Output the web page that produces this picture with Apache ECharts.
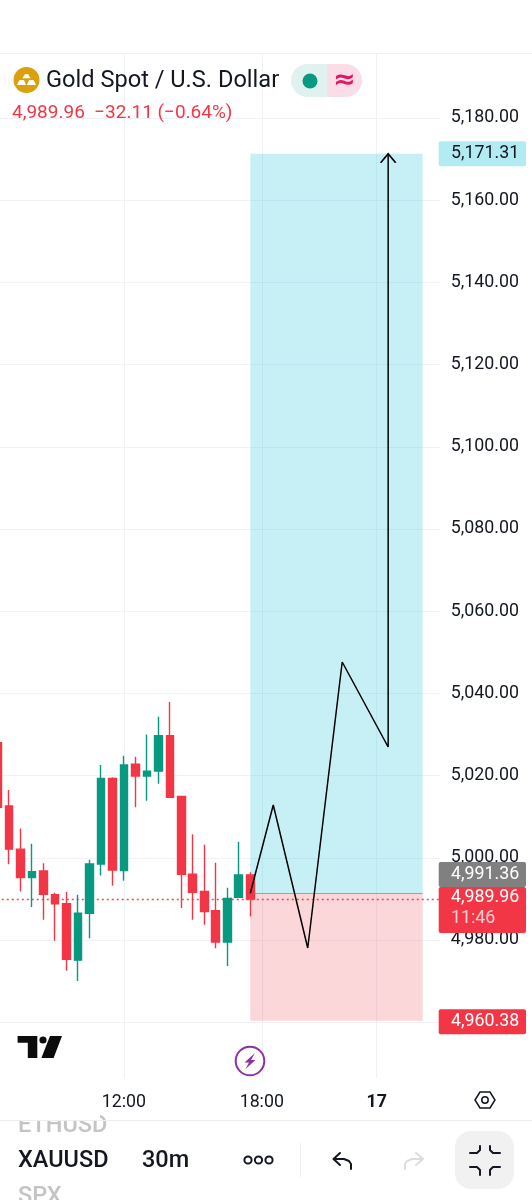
<![CDATA[<!DOCTYPE html>
<html><head><meta charset="utf-8">
<style>html,body{margin:0;padding:0;background:#fff}#c{width:532px;height:1200px}</style>
<script src="https://cdn.jsdelivr.net/npm/echarts@6/dist/echarts.min.js"></script>
</head><body><div id="c"></div>
<script>
const categories = ['','','','','','','','','','','','12:00','','','','','','','','','','','','18:00','','','','','','','','','','17','','','','',''];
const opens  = [5028.0,5012.6,5002.1,4995.2,4996.8,4991.0,4988.8,4975.1,4986.5,4998.5,5019.3,4996.9,5022.8,5019.9,5021.1,5029.7,5014.9,4996.0,4991.8,4987.1,4979.5,4990.4,4995.8];
const closes = [5012.3,5002.1,4995.2,4996.6,4991.1,4988.8,4975.3,4986.5,4998.5,5019.3,4997.0,5022.6,5019.9,5021.1,5029.7,5014.7,4996.0,4991.6,4986.9,4979.5,4990.1,4995.8,4989.96];
const lows   = [5012.3,4998.4,4991.8,4988.0,4984.9,4979.8,4972.5,4970.0,4980.4,4995.7,4993.2,4994.4,5012.3,5013.9,5018.0,5014.7,4987.8,4984.9,4983.7,4978.0,4973.7,4990.4,4985.7];
const highs  = [5028.0,5016.5,5007.1,5003.4,4998.7,4991.5,4991.7,4991.0,4999.5,5022.6,5019.6,5024.8,5024.6,5030.0,5034.3,5037.9,5014.9,5005.7,5003.2,4998.8,4992.7,5003.9,4996.5];
const priceTicks = [4960,4980,5000,5020,5040,5060,5080,5100,5120,5140,5160,5180];
const priceLabels = [4980,5000,5020,5040,5060,5080,5100,5120,5140,5160,5180];
const projectionX = [22,24,27,30,34,34];
const projectionY = [4991.36,5012.85,4978.05,5047.64,5026.96,5171.31];
const targetPrice = 5171.31, entryPrice = 4991.36, lastPrice = 4989.96, stopPrice = 4960.38;
const boxStart = 22, boxEnd = 37;

const UP='#089981', DOWN='#f23645', GRID='#f1f2f5', INK='#131722';
const FONT='Roboto, sans-serif';
const fmt = v => v.toLocaleString('en-US',{minimumFractionDigits:2,maximumFractionDigits:2});
const chart = echarts.init(document.getElementById('c'),null,{renderer:'canvas'});

const option = {
  animation:false,
  backgroundColor:'#fff',
  title:[
    {text:'Gold Spot / U.S. Dollar',left:46,top:69,padding:0,textStyle:{fontFamily:FONT,fontSize:23.6,fontWeight:400,color:INK}},
    {text:'4,989.96  −32.11 (−0.64%)',left:12,top:103.5,padding:0,textStyle:{fontFamily:FONT,fontSize:19,fontWeight:400,color:DOWN}}
  ],
  grid:{left:-8.235,top:53,width:448.1,height:1025,outerBoundsMode:'none',containLabel:false},
  xAxis:{type:'category',data:categories,boundaryGap:true,
    axisLine:{show:false},axisTick:{show:false},
    splitLine:{show:true,alignWithLabel:true,interval:(i,v)=>v!=='',lineStyle:{color:GRID,width:1}},
    axisLabel:{interval:0,margin:16,hideOverlap:false,fontFamily:FONT,fontSize:17.8,color:INK,
      formatter:v=>v==='17'?'{b|17}':v,
      rich:{b:{fontFamily:FONT,fontSize:17.8,fontWeight:700,color:INK}}}},
  yAxis:{type:'value',position:'right',min:4946.42,max:5195.82,
    axisLine:{show:false},
    axisTick:{show:false,customValues:priceTicks},
    splitLine:{show:true,lineStyle:{color:GRID,width:1}},
    axisLabel:{customValues:priceLabels,margin:11,align:'left',fontFamily:FONT,fontSize:17.8,color:INK,padding:[0,0,4,0],formatter:v=>fmt(v)}},
  series:[
    {type:'candlestick',barWidth:8.2,z:3,
     data:opens.map((o,i)=>[o,closes[i],lows[i],highs[i]]),
     itemStyle:{color:UP,color0:DOWN,borderColor:UP,borderColor0:DOWN,borderWidth:1.4},
     markArea:{silent:true,z:1,data:[
       [{coord:[boxStart,targetPrice],itemStyle:{color:'rgba(0,188,212,0.22)'}},{coord:[boxEnd,entryPrice]}],
       [{coord:[boxStart,entryPrice],itemStyle:{color:'rgba(242,54,69,0.2)'}},{coord:[boxEnd,stopPrice]}]
     ]},
     markLine:{silent:true,symbol:'none',z:2,label:{show:false},data:[
       {yAxis:lastPrice,lineStyle:{color:DOWN,type:[2,3],width:1.3,opacity:.9}},
       [{coord:[boxStart,entryPrice],lineStyle:{color:'#9aa4a6',type:'solid',width:1}},{coord:[boxEnd,entryPrice]}]
     ]}},
    {type:'line',z:5,data:projectionX.map((x,i)=>[x,projectionY[i]]),symbol:'none',
     lineStyle:{color:'#000',width:1.5},silent:true,
     markPoint:{silent:true,symbol:'path://M-7 8L0 0L7 8',symbolSize:[15,9],symbolOffset:[0,4.5],
       itemStyle:{color:'none',borderColor:'#000',borderWidth:1.5},label:{show:false},
       data:[{coord:[34,targetPrice]}]}}
  ]
};
chart.setOption(option);

const py = p => chart.convertToPixel({yAxisIndex:0},p);
const txt=(x,y,t,font,fill)=>({type:'text',z:24,style:{x,y,text:t,font,fill,align:'left',verticalAlign:'middle'}});
const tag=(y,h,fill,lines,ink)=>{
  const out=[{type:'rect',z:20,shape:{x:438.7,y:y-h/2,width:87.3,height:h,r:2},style:{fill}}];
  lines.forEach(l=>out.push(txt(451,l.y,l.t,'17.8px '+FONT,l.c||ink)));
  return out;
};
const line=(pts,stroke,lw)=>({type:'polyline',z:21,shape:{points:pts},style:{stroke,lineWidth:lw,fill:null,lineCap:'round',lineJoin:'round'}});
const yT=py(targetPrice), yS=py(stopPrice)+1;
const gold='#dba10c';
chart.setOption({graphic:{elements:[
  {type:'rect',z:10,shape:{x:0,y:53,width:532,height:1},style:{fill:'#eff0f3'}},
  {type:'circle',z:21,shape:{cx:26.5,cy:80,r:13},style:{fill:gold}},
  {type:'polygon',z:22,shape:{points:[[25,74],[28,74],[30.5,78.3],[22.5,78.3]]},style:{fill:'#fff'}},
  {type:'polygon',z:22,shape:{points:[[19.5,80],[24,80],[26,85],[17,85]]},style:{fill:'#fff'}},
  {type:'polygon',z:22,shape:{points:[[29,80],[33.5,80],[36,85],[27,85]]},style:{fill:'#fff'}},
  {type:'rect',z:21,shape:{x:291,y:64,width:36,height:33,r:[16.5,0,0,16.5]},style:{fill:'#dff2ef'}},
  {type:'rect',z:21,shape:{x:327,y:64,width:35,height:33,r:[0,16.5,16.5,0]},style:{fill:'#fbdde8'}},
  {type:'circle',z:22,shape:{cx:310,cy:81,r:7.5},style:{fill:UP}},
  txt(333,81,'≈','700 27px DejaVu Sans','#dd1a63'),
  ...tag(yT,25,'#b2ebf2',[{t:fmt(targetPrice),y:yT}],INK),
  ...tag(874.5,25,'#808080',[{t:fmt(entryPrice),y:875}],'#fff'),
  ...tag(910,46,DOWN,[{t:fmt(lastPrice),y:898},{t:'11:46',y:919,c:'#fbd0d4'}],'#fff'),
  ...tag(yS,25,DOWN,[{t:fmt(stopPrice),y:yS}],'#fff'),
  {type:'polygon',z:21,shape:{points:[[17.6,1036],[37.3,1036],[37.3,1058],[27.8,1058],[27.8,1042.8],[17.6,1042.8]]},style:{fill:'#0c0c0c'}},
  {type:'circle',z:21,shape:{cx:43,cy:1040,r:3.6},style:{fill:'#0c0c0c'}},
  {type:'polygon',z:21,shape:{points:[[50,1036],[62,1036],[53.6,1058],[41.4,1058]]},style:{fill:'#0c0c0c'}},
  {type:'circle',z:21,shape:{cx:250,cy:1061,r:14.3},style:{fill:'#fff',stroke:'#8e2fa8',lineWidth:2}},
  {type:'polygon',z:22,shape:{points:[[255,1053],[244.5,1062.5],[249,1062.5],[245.5,1069],[255.5,1060],[251,1060]]},style:{fill:'#8e2fa8'}},
  {type:'polygon',z:21,shape:{points:[[475,1100],[480,1092],[490,1092],[495,1100],[490,1108],[480,1108]]},style:{fill:'#fff',stroke:INK,lineWidth:1.5}},
  {type:'circle',z:21,shape:{cx:485,cy:1100,r:3.2},style:{fill:'#fff',stroke:INK,lineWidth:1.5}},
  txt(18,1126,'ETHUSD','500 23.5px '+FONT,'#c4c4c4'),
  txt(18,1197,'SPX','500 23.5px '+FONT,'#c4c4c4'),
  {type:'rect',z:25,shape:{x:0,y:1111,width:100,height:9},style:{fill:'#fff'}},
  {type:'rect',z:25,shape:{x:0,y:1120,width:532,height:1},style:{fill:'#eeeeee'}},
  txt(18,1161.5,'XAUUSD','500 23.5px '+FONT,INK),
  txt(142,1161.5,'30m','500 23.5px '+FONT,INK),
  {type:'circle',z:21,shape:{cx:248,cy:1160,r:3.6},style:{fill:'#fff',stroke:INK,lineWidth:2}},
  {type:'circle',z:21,shape:{cx:258.5,cy:1160,r:3.6},style:{fill:'#fff',stroke:INK,lineWidth:2}},
  {type:'circle',z:21,shape:{cx:269,cy:1160,r:3.6},style:{fill:'#fff',stroke:INK,lineWidth:2}},
  {type:'rect',z:21,shape:{x:300,y:1143,width:1,height:34},style:{fill:'#eeeeee'}},
  line([[340,1153],[333.5,1159],[340,1165]],INK,2),
  line([[334,1159],[344,1159],[349,1161],[351,1164],[351,1169]],INK,2),
  line([[416,1153],[423,1159],[416,1165]],'#dcdcdc',2),
  line([[422,1159],[412,1159],[407,1161],[405,1164],[405,1169]],'#dcdcdc',2),
  {type:'rect',z:21,shape:{x:455,y:1131,width:59,height:58,r:16},style:{fill:'#f1f1f1'}},
  line([[470,1153],[477,1153],[480,1150],[480,1146]],INK,2),
  line([[500,1153],[493,1153],[490,1150],[490,1146]],INK,2),
  line([[470,1167],[477,1167],[480,1170],[480,1175]],INK,2),
  line([[500,1167],[493,1167],[490,1170],[490,1175]],INK,2)
]}});
</script></body></html>]]>
